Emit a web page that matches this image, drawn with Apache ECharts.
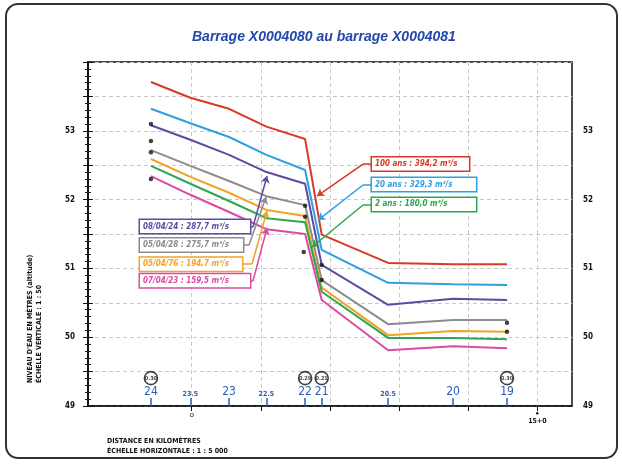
<!DOCTYPE html>
<html><head><meta charset="utf-8">
<script src="https://cdn.jsdelivr.net/npm/echarts@6/dist/echarts.min.js"></script>
<style>html,body{margin:0;padding:0;background:#fff}#c{width:622px;height:465px}</style>
</head><body><div id="c"></div>
<script>
// ---- data ----
const profileNames = ['24','23.5','23','22.5','22','21','20.5','20','19'];
const profilePos   = [0.91, 1.48, 2.04, 2.58, 3.14, 3.38, 4.34, 5.28, 6.06];
const crue100   = [53.71,53.48,53.32,53.06,52.88,51.49,51.08,51.06,51.06];
const crue20    = [53.32,53.11,52.91,52.65,52.43,51.27,50.79,50.77,50.76];
const obs080424 = [53.08,52.87,52.65,52.40,52.23,51.05,50.47,50.56,50.54];
const obs050428 = [52.72,52.49,52.27,52.05,51.92,50.83,50.19,50.25,50.25];
const obs050476 = [52.59,52.33,52.10,51.85,51.76,50.72,50.03,50.09,50.08];
const crue2     = [52.49,52.23,51.98,51.73,51.67,50.66,49.99,49.99,49.97];
const obs070423 = [52.34,52.07,51.82,51.57,51.50,50.54,49.81,49.87,49.84];
const pointPos  = [0.91,0.91,0.91,0.91,3.14,3.14,3.12,3.38,3.38,6.06,6.06];
const pointVal  = [53.10,52.85,52.69,52.30,51.91,51.75,51.24,51.05,50.83,50.21,50.08];
const circlePos  = [0.91, 3.14, 3.38, 6.06];
const circleText = ['0.30','0.29','0.21','0.30'];
const yTickLabels = [49,50,51,52,53];
const xTickValues = [1.5,2.5,3.5,4.5,5.5,6.5];
const labelTexts = {
  c100:'100 ans : 394,2 m³/s', c20:'20 ans : 329,3 m³/s', c2:'2 ans : 180,0 m³/s',
  o1:'08/04/24 : 287,7 m³/s', o2:'05/04/28 : 275,7 m³/s', o3:'05/04/76 : 194,7 m³/s', o4:'07/04/23 : 159,5 m³/s'
};

// ---- annotation layout (data coordinates) ----
const ann = {
  c100:{at:[4.107,52.517], w:97,  lead:[[4.107,52.517],[3.977,52.517],[3.312,52.052]]},
  c20: {at:[4.107,52.22],  w:104, lead:[[4.107,52.212],[3.977,52.212],[3.327,51.703]]},
  c2:  {at:[4.107,51.93],  w:104, lead:[[4.107,51.922],[3.977,51.922],[3.240,51.311]]},
  o1:  {at:[0.752,51.61],  w:110, lead:[[2.343,51.602],[2.386,51.602],[2.589,52.343]]},
  o2:  {at:[0.752,51.34],  w:103, lead:[[2.242,51.340],[2.329,51.340],[2.574,52.038]]},
  o3:  {at:[0.752,51.06],  w:102, lead:[[2.227,51.064],[2.372,51.064],[2.589,51.834]]},
  o4:  {at:[0.752,50.82],  w:110, lead:[[2.343,50.817],[2.386,50.817],[2.589,51.587]]}
};

const FONT = 'DejaVu Sans Condensed';
const BLUE_TXT = '#2a5db5';

function prof(name, vals, color, key) {
  const a = ann[key];
  return {
    name, type:'line', xAxisIndex:0, yAxisIndex:0,
    data: profilePos.map((p,i)=>[p, vals[i]]),
    symbol:'none', lineStyle:{color, width:2}, z:3,
    markLine:{
      silent:true, animation:false, symbolSize:7, label:{show:false},
      lineStyle:{color, width:1.5, type:'solid'},
      data:[
        [{coord:a.lead[0], symbol:'none'},{coord:a.lead[1], symbol:'none'}],
        [{coord:a.lead[1], symbol:'none'},{coord:a.lead[2], symbol:'arrow'}]
      ]
    },
    markPoint:{
      silent:true, animation:false, symbol:'circle', symbolSize:0,
      data:[{coord:a.at, label:{
        show:true, position:'right', distance:0, formatter: labelTexts[key],
        color, fontFamily:FONT, fontStyle:'italic', fontWeight:'bold', fontSize:8,
        lineHeight:9, backgroundColor:'#fff', borderColor:color, borderWidth:1.5,
        padding:[2,3], width:a.w-6
      }}]
    }
  };
}

const chart = echarts.init(document.getElementById('c'), null, {renderer:'canvas'});
const yAxisBase = {
  type:'value', min:49, max:54, interval:0.5,
  axisLine:{show:true, lineStyle:{color:'#111', width:1.5}},
  axisTick:{show:true, length:5, lineStyle:{color:'#111'}},
  minorTick:{show:true, splitNumber:5, length:3, lineStyle:{color:'#222'}},
  axisLabel:{formatter:v=> yTickLabels.includes(v)? String(v):'', fontSize:8, fontWeight:'bold', color:'#111', fontFamily:FONT}
};
chart.setOption({
  animation:false,
  backgroundColor:'#fff',
  title:{text:'Barrage X0004080 au barrage X0004081', left:192, top:30, padding:0,
    textStyle:{color:'#2548a8', fontSize:14, fontWeight:'bold', fontStyle:'italic', fontFamily:'Liberation Sans'}},
  grid:{left:88, right:50, top:62, bottom:59, show:true, borderColor:'#111', borderWidth:1.5, containLabel:false},
  xAxis:[
    {type:'value', min:0, max:7, interval:0.5, position:'bottom',
     axisLine:{show:true, onZero:false, lineStyle:{color:'#111', width:1.5}},
     axisTick:{show:true, length:5, customValues:xTickValues, lineStyle:{color:'#111'}},
     axisLabel:{show:true, customValues:[1.5,6.5], margin:4,
       formatter:v=> v===1.5 ? '{o|o}' : '{d|●}\n{t|15+0}',
       rich:{o:{fontSize:8, color:'#111', lineHeight:9}, d:{fontSize:6, color:'#111', lineHeight:7}, t:{fontSize:7, fontWeight:'bold', color:'#111', fontFamily:FONT, lineHeight:9}}},
     splitLine:{show:true, lineStyle:{type:[4,3], color:'#c8c8c8'}}},
    {type:'value', min:0, max:7, position:'bottom',
     axisLine:{show:false},
     axisTick:{show:true, inside:true, length:8, customValues:profilePos, lineStyle:{color:BLUE_TXT, width:1.5}},
     axisLabel:{show:true, inside:true, margin:8, customValues:profilePos,
       formatter:v=>{const n=profileNames[profilePos.indexOf(v)]||''; return n.length>2 ? '{s|'+n+'}' : '{b|'+n+'}';},
       rich:{b:{fontSize:12, color:BLUE_TXT, fontFamily:FONT}, s:{fontSize:7, fontWeight:'bold', color:BLUE_TXT, fontFamily:FONT}}},
     splitLine:{show:false}}
  ],
  yAxis:[
    Object.assign({}, yAxisBase, {position:'left', axisLabel:Object.assign({}, yAxisBase.axisLabel, {margin:13}),
      splitLine:{show:true, lineStyle:{type:[4,3], color:'#c8c8c8'}}}),
    Object.assign({}, yAxisBase, {position:'right', axisLabel:Object.assign({}, yAxisBase.axisLabel, {margin:11}), splitLine:{show:false}})
  ],
  series:[
    prof('100 ans', crue100, '#d83a26', 'c100'),
    prof('20 ans', crue20, '#2e9fe0', 'c20'),
    prof('08/04/24', obs080424, '#5c4ba3', 'o1'),
    prof('05/04/28', obs050428, '#8c8c8c', 'o2'),
    prof('05/04/76', obs050476, '#f2a224', 'o3'),
    prof('2 ans', crue2, '#2ea650', 'c2'),
    prof('07/04/23', obs070423, '#dc4aa0', 'o4'),
    {name:'relevés', type:'scatter', data:pointPos.map((p,i)=>[p, pointVal[i]]), symbolSize:4.5,
     itemStyle:{color:'#111'}, z:5, silent:true},
    {name:'repères', type:'scatter', data:circlePos.map((p,i)=>[p, 49.405]), symbolSize:13, z:5, silent:true,
     itemStyle:{color:'#fff', borderColor:'#111', borderWidth:1.6},
     label:{show:true, position:'inside', formatter:p=>circleText[p.dataIndex], fontSize:5.5, fontWeight:'bold', color:'#111', fontFamily:FONT}}
  ],
  graphic:[
    {type:'rect', shape:{x:6, y:4, width:611, height:454, r:12}, style:{fill:'none', stroke:'#333', lineWidth:2}, silent:true},
    {type:'text', x:30, y:383, rotation:Math.PI/2, style:{text:"NIVEAU D'EAU EN MÈTRES (altitude)", font:'bold 7px "DejaVu Sans Condensed"', fill:'#111', textAlign:'left', textVerticalAlign:'middle'}},
    {type:'text', x:39, y:383, rotation:Math.PI/2, style:{text:'ÉCHELLE VERTICALE : 1 : 50', font:'bold 7px "DejaVu Sans Condensed"', fill:'#111', textAlign:'left', textVerticalAlign:'middle'}},
    {type:'text', x:107, y:441, style:{text:'DISTANCE EN KILOMÈTRES', font:'bold 7px "DejaVu Sans Condensed"', fill:'#111', textVerticalAlign:'middle'}},
    {type:'text', x:107, y:451, style:{text:'ÉCHELLE HORIZONTALE : 1 : 5 000', font:'bold 7px "DejaVu Sans Condensed"', fill:'#111', textVerticalAlign:'middle'}}
  ]
});
</script></body></html>
